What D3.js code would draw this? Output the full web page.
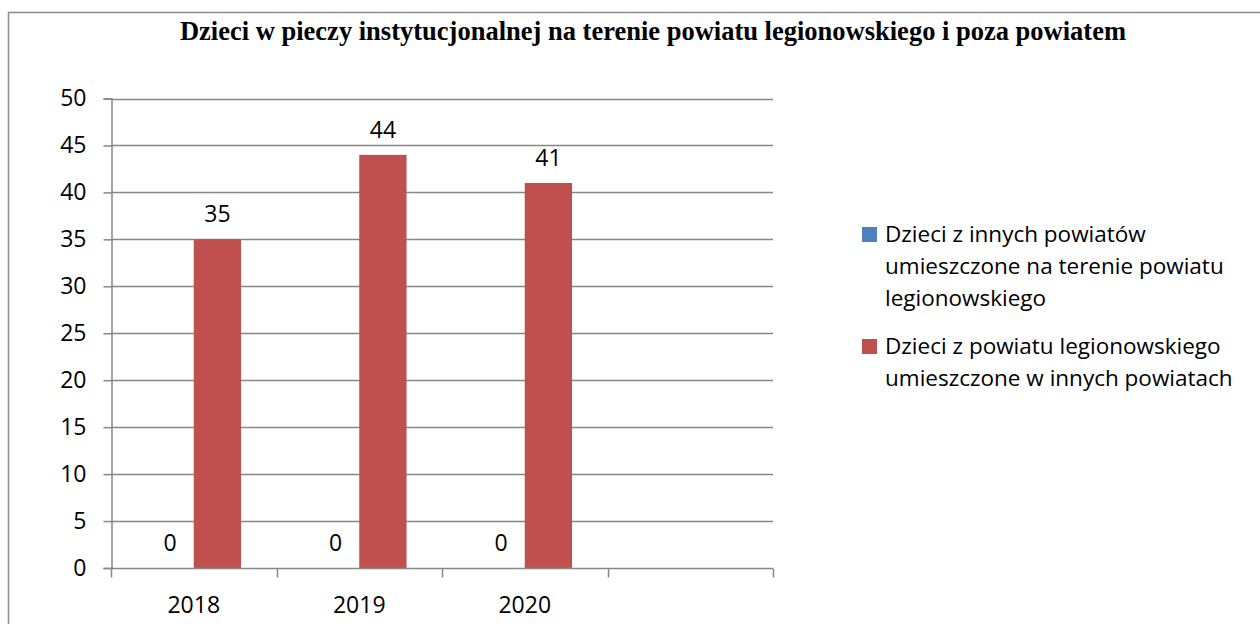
<!DOCTYPE html>
<html>
<head>
<meta charset="utf-8">
<script src="https://cdn.jsdelivr.net/npm/d3@7"></script>
<style>
  body { margin: 0; background: #fff; }
  svg { display: block; }
</style>
</head>
<body>
<svg width="1260" height="624"></svg>
<script>
var svg = d3.select("svg"),
    width = +svg.attr("width"),
    height = +svg.attr("height");

// data
var years = ["2018", "2019", "2020", ""];
var seriesNames = [
  "Dzieci z innych powiatów umieszczone na terenie powiatu legionowskiego",
  "Dzieci z powiatu legionowskiego umieszczone w innych powiatach"
];
var innychValues = [0, 0, 0];
var legionowoValues = [35, 44, 41];
var yTicks = [0, 5, 10, 15, 20, 25, 30, 35, 40, 45, 50];
var colors = ["#4F81BD", "#C0504D"];

// legend text broken into lines like the original
var legendLines = [
  ["Dzieci z innych powiatów", "umieszczone na terenie powiatu", "legionowskiego"],
  ["Dzieci z powiatu legionowskiego", "umieszczone w innych powiatach"]
];

var font = "'Open Sans', sans-serif";

// outer border (runs off the page on the right and bottom)
svg.append("rect")
    .attr("x", 8.5).attr("y", 12.5)
    .attr("width", 1300).attr("height", 700)
    .attr("fill", "none")
    .attr("stroke", "#8c8c8c")
    .attr("stroke-width", 1.5);

svg.append("text")
    .attr("x", 653).attr("y", 40)
    .attr("text-anchor", "middle")
    .style("font-family", "'Liberation Serif', 'Times New Roman', serif")
    .style("font-weight", "bold")
    .style("font-size", "26.5px")
    .text("Dzieci w pieczy instytucjonalnej na terenie powiatu legionowskiego i poza powiatem");

var x = d3.scaleBand().domain(years).range([111, 773]).padding(0);
var bw = x.bandwidth();
// excel style: gap width 150%
var xs = d3.scaleBand().domain([0, 1])
    .range([0.75 * bw / 3.5, 2.75 * bw / 3.5]).padding(0);
var y = d3.scaleLinear().domain([0, 50]).range([568, 98.5]);

// gridlines
svg.append("g")
  .selectAll("line")
  .data(yTicks.slice(1))
  .enter().append("line")
    .attr("x1", 111).attr("x2", 773)
    .attr("y1", function(d) { return Math.round(y(d)) + 0.5; })
    .attr("y2", function(d) { return Math.round(y(d)) + 0.5; })
    .attr("stroke", "#868686")
    .attr("stroke-width", 1.5);

// y axis
var yAxis = svg.append("g")
    .attr("transform", "translate(111.5,0)")
    .call(d3.axisLeft(y).tickValues(yTicks).tickSize(8).tickPadding(17));
yAxis.select(".domain").attr("stroke", "#868686").attr("stroke-width", 1.5);
yAxis.selectAll(".tick line").attr("stroke", "#868686").attr("stroke-width", 1.5);
yAxis.selectAll(".tick text")
    .style("font-family", font).style("font-size", "23px").attr("fill", "#000");

// bars
var rows = [innychValues, legionowoValues];
rows.forEach(function(vals, si) {
  var g = svg.append("g");
  g.selectAll("rect")
    .data(vals)
    .enter().append("rect")
      .attr("x", function(d, i) { return x(years[i]) + xs(si); })
      .attr("y", function(d) { return y(d); })
      .attr("width", xs.bandwidth())
      .attr("height", function(d) { return y(0) - y(d); })
      .attr("fill", colors[si]);
  g.selectAll("text")
    .data(vals)
    .enter().append("text")
      .attr("x", function(d, i) { return x(years[i]) + xs(si) + xs.bandwidth() / 2; })
      .attr("y", function(d) { return y(d) - 17; })
      .attr("text-anchor", "middle")
      .style("font-family", font).style("font-size", "23px")
      .text(function(d) { return d; });
});

// x axis
var xAxis = svg.append("g")
    .attr("transform", "translate(0," + (Math.round(y(0)) + 0.5) + ")");
xAxis.append("line")
    .attr("x1", 111).attr("x2", 773)
    .attr("stroke", "#868686").attr("stroke-width", 1.5);
xAxis.selectAll(".xt")
  .data(years.concat(["end"]))
  .enter().append("line")
    .attr("class", "xt")
    .attr("x1", function(d, i) { return Math.round(111 + i * bw) + 0.5; })
    .attr("x2", function(d, i) { return Math.round(111 + i * bw) + 0.5; })
    .attr("y1", 0).attr("y2", 9)
    .attr("stroke", "#868686").attr("stroke-width", 1.5);
xAxis.selectAll("text")
  .data(years)
  .enter().append("text")
    .attr("x", function(d) { return x(d) + bw / 2; })
    .attr("y", 44)
    .attr("text-anchor", "middle")
    .style("font-family", font).style("font-size", "23px")
    .text(function(d) { return d; });

// legend
var legendTops = [227, 339];
legendLines.forEach(function(lines, si) {
  var lg = svg.append("g").attr("transform", "translate(862," + legendTops[si] + ")");
  lg.append("rect")
      .attr("width", 15).attr("height", 15)
      .attr("fill", colors[si]);
  lg.append("text")
      .style("font-family", font).style("font-size", "22.5px")
      .selectAll("tspan")
      .data(lines)
      .enter().append("tspan")
        .attr("x", 23)
        .attr("y", function(d, i) { return 15 + i * 32; })
        .text(function(d) { return d; });
});
</script>
</body>
</html>
